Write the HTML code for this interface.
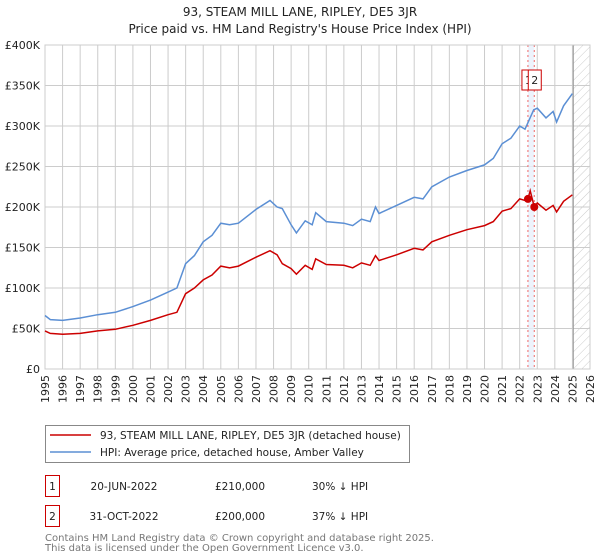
<!DOCTYPE html>
<html><head><meta charset="utf-8"><style>
body{margin:0;background:#fff;font-family:"DejaVu Sans","Liberation Sans",sans-serif;}
#wrap{position:relative;width:600px;height:560px;overflow:hidden;}
svg text{font-family:"DejaVu Sans","Liberation Sans",sans-serif;}
</style></head><body>
<div id="wrap">
<svg id="chart" width="600" height="560"></svg>
</div>
<script>
const hpiYears=[1995,1995.3,1996,1997,1998,1999,2000,2001,2002,2002.5,2003,2003.5,2004,2004.5,2005,2005.5,2006,2007,2007.8,2008.2,2008.5,2009,2009.3,2009.8,2010.2,2010.4,2011,2012,2012.5,2013,2013.5,2013.8,2014,2015,2016,2016.5,2017,2018,2019,2020,2020.5,2021,2021.5,2022,2022.3,2022.8,2023,2023.5,2023.9,2024.1,2024.5,2025];
const hpiValues=[66,61,60,63,67,70,77,85,95,100,130,140,157,165,180,178,180,197,208,200,198,178,168,183,178,193,182,180,177,185,182,200,192,202,212,210,225,237,245,252,260,278,285,300,296,320,322,310,318,305,325,340];
const saleYears=[1995,1995.3,1996,1997,1998,1999,2000,2001,2002,2002.5,2003,2003.5,2004,2004.5,2005,2005.5,2006,2007,2007.8,2008.2,2008.5,2009,2009.3,2009.8,2010.2,2010.4,2011,2012,2012.5,2013,2013.5,2013.8,2014,2015,2016,2016.5,2017,2018,2019,2020,2020.5,2021,2021.5,2022,2022.3,2022.47,2022.6,2022.83,2023,2023.5,2023.9,2024.1,2024.5,2025];
const saleValues=[47,44,43,44,47,49,54,60,67,70,93,100,110,116,127,125,127,138,146,141,130,124,117,128,123,136,129,128,125,131,128,140,134,141,149,147,157,165,172,177,182,195,198,210,208,210,220,200,205,196,202,194,207,215];
const yTicks=[0,50,100,150,200,250,300,350,400];
const yTickLabels=["£0","£50K","£100K","£150K","£200K","£250K","£300K","£350K","£400K"];
const xTicks=[1995,1996,1997,1998,1999,2000,2001,2002,2003,2004,2005,2006,2007,2008,2009,2010,2011,2012,2013,2014,2015,2016,2017,2018,2019,2020,2021,2022,2023,2024,2025,2026];
const saleDates=[2022.47,2022.83];
const salePrices=[210,200];
const saleLabels=["1","2"];

const NS="http://www.w3.org/2000/svg";
const svg=document.getElementById('chart');
const L=45,R=590,T=45,B=369;
const xs=v=>L+(v-1995)/(2026-1995)*(R-L);
const ys=v=>B-v/400*(B-T);
function el(tag,attrs,parent){const e=document.createElementNS(NS,tag);for(const k in attrs)e.setAttribute(k,attrs[k]);(parent||svg).appendChild(e);return e;}
function txt(s,attrs){const e=el('text',attrs);e.textContent=s;return e;}

const defs=el('defs',{});
const pat=el('pattern',{id:'hatch',patternUnits:'userSpaceOnUse',width:6,height:6,patternTransform:'rotate(45)'},defs);
el('line',{x1:0,y1:0,x2:0,y2:6,stroke:'#ccc','stroke-width':1},pat);

const t1=txt('93, STEAM MILL LANE, RIPLEY, DE5 3JR',{x:300,y:16,'text-anchor':'middle','font-size':12,fill:'#222'});

const t2=txt("Price paid vs. HM Land Registry's House Price Index (HPI)",{x:300,y:33,'text-anchor':'middle','font-size':12,fill:'#222'});


yTicks.forEach((v,i)=>{
  const g=el('line',{x1:L,x2:R,y1:ys(v),y2:ys(v),stroke:'#ccc','stroke-width':1});
  
  const t=txt(yTickLabels[i],{x:L-5,y:ys(v)+4,'text-anchor':'end','font-size':11,fill:'#222'});
  
});
xTicks.forEach(v=>{
  const g=el('line',{x1:xs(v),x2:xs(v),y1:T,y2:B,stroke:'#ccc','stroke-width':1});
  
  const t=txt(String(v),{x:0,y:0,'text-anchor':'end','font-size':11,fill:'#222',transform:`translate(${xs(v)+4},${B+6}) rotate(-90)`});
  
});
const hx=xs(2025.05);
const hr=el('rect',{x:hx,y:T,width:R-hx,height:B-T,fill:'url(#hatch)',stroke:'none'});

el('line',{x1:hx,x2:hx,y1:T,y2:B,stroke:'#999','stroke-width':1});
const band=el('rect',{x:xs(saleDates[0]),y:T,width:xs(saleDates[1])-xs(saleDates[0]),height:B-T,fill:'#e8f0fb',opacity:0.8});

saleDates.forEach(d=>{
  const l=el('line',{x1:xs(d),x2:xs(d),y1:T,y2:B,stroke:'#e66','stroke-width':1,'stroke-dasharray':'2,3'});
  
});
el('rect',{x:L,y:T,width:R-L,height:B-T,fill:'none',stroke:'#ccc'});

function pts(xa,va){return xa.map((x,i)=>xs(x).toFixed(1)+','+ys(va[i]).toFixed(1)).join(' ');}
const hp=el('polyline',{points:pts(hpiYears,hpiValues),fill:'none',stroke:'#5b8fd4','stroke-width':1.5});

const sp=el('polyline',{points:pts(saleYears,saleValues),fill:'none',stroke:'#cc0000','stroke-width':1.5});

saleDates.forEach((d,i)=>{
  const c=el('circle',{cx:xs(d),cy:ys(salePrices[i]),r:4,fill:'#cc0000'});
  
});
saleDates.forEach((d,i)=>{
  const bx=el('rect',{x:xs(d)-6,y:70,width:13,height:20,fill:'#fff',stroke:'#cc0000','stroke-width':1});
  
  const t=txt(saleLabels[i],{x:xs(d)+0.5,y:84,'text-anchor':'middle','font-size':11,fill:'#222'});
  
});

const lg=el('rect',{x:45.5,y:425.5,width:364,height:37,fill:'#fff',stroke:'#888'});

el('line',{x1:50,x2:91,y1:435,y2:435,stroke:'#cc0000','stroke-width':1.5});
el('line',{x1:50,x2:91,y1:452,y2:452,stroke:'#5b8fd4','stroke-width':1.5});
const le1=txt('93, STEAM MILL LANE, RIPLEY, DE5 3JR (detached house)',{x:100,y:439,'font-size':10.5,fill:'#222'});

const le2=txt('HPI: Average price, detached house, Amber Valley',{x:100,y:456,'font-size':10.5,fill:'#222'});


const rows=[["1","20-JUN-2022","£210,000","30% ↓ HPI",475],["2","31-OCT-2022","£200,000","37% ↓ HPI",505]];
rows.forEach(r=>{
  const y=r[4];
  const b=el('rect',{x:45.5,y:y+0.5,width:14,height:21,fill:'#fff',stroke:'#cc0000'});
  
  txt(r[0],{x:52.5,y:y+15,'text-anchor':'middle','font-size':10.5,fill:'#222'});
  const d=txt(r[1],{x:124,y:y+15,'text-anchor':'middle','font-size':10.5,fill:'#222'});
  
  const p=txt(r[2],{x:240,y:y+15,'text-anchor':'middle','font-size':10.5,fill:'#222'});
  
  const h=txt(r[3],{x:312,y:y+15,'font-size':10.5,fill:'#222'});
  
});
const f1=txt('Contains HM Land Registry data © Crown copyright and database right 2025.',{x:45,y:541,'font-size':10,fill:'#777'});

const f2=txt('This data is licensed under the Open Government Licence v3.0.',{x:45,y:551,'font-size':10,fill:'#777'});

</script>
</body></html>
